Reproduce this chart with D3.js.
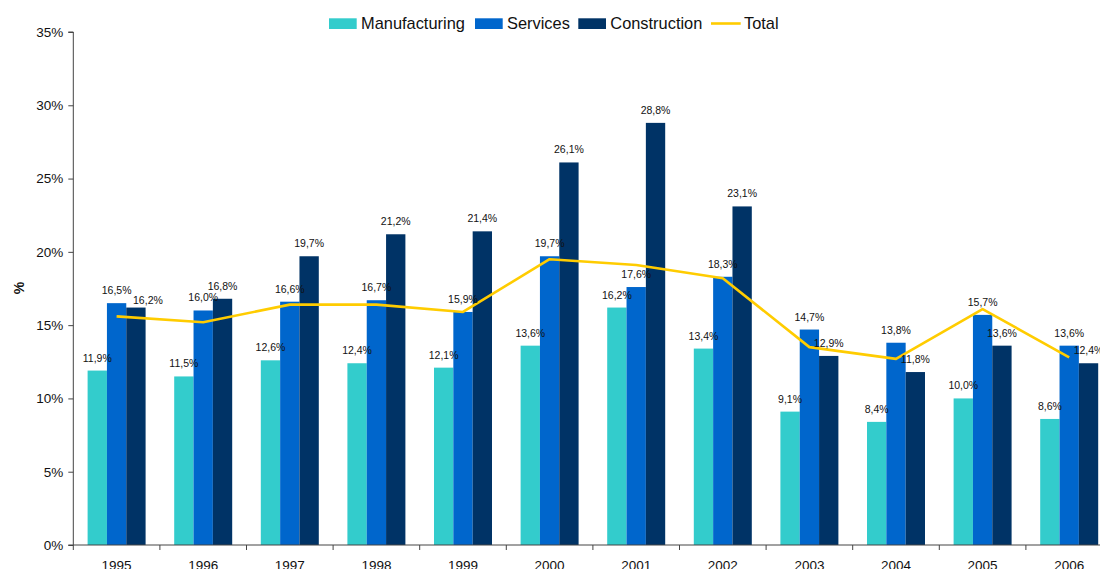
<!DOCTYPE html>
<html>
<head>
<meta charset="utf-8">
<script src="https://cdn.jsdelivr.net/npm/d3@7"></script>
<style>
  body { margin: 0; background: #fff; }
  svg { display: block; font-family: "Liberation Sans", Arial, sans-serif; }
</style>
</head>
<body>
<svg></svg>
<script>
const years = ['1995', '1996', '1997', '1998', '1999', '2000', '2001', '2002', '2003', '2004', '2005', '2006'];
const manufacturing = [11.9, 11.5, 12.6, 12.4, 12.1, 13.6, 16.2, 13.4, 9.1, 8.4, 10.0, 8.6];
const services = [16.5, 16.0, 16.6, 16.7, 15.9, 19.7, 17.6, 18.3, 14.7, 13.8, 15.7, 13.6];
const construction = [16.2, 16.8, 19.7, 21.2, 21.4, 26.1, 28.8, 23.1, 12.9, 11.8, 13.6, 12.4];
const total = [15.6, 15.2, 16.4, 16.4, 15.9, 19.5, 19.1, 18.2, 13.5, 12.7, 16.1, 12.8];
const yTicks = [0, 5, 10, 15, 20, 25, 30, 35];

const seriesNames = ['Manufacturing', 'Services', 'Construction'];
const seriesValues = [manufacturing, services, construction];
const colors = ['#33CCCC', '#0066CC', '#003366'];
const lineColor = '#FFCC00';

const chartWidth = 1100;
const chartHeight = 569;
const plotLeft = 73.3;
const step = 86.6;
const plotTop = 32;
const plotBottom = 545;
const plotRight = plotLeft + step * years.length;

const svg = d3.select('svg').attr('width', chartWidth).attr('height', chartHeight);

const x0 = d3.scaleBand()
  .domain(years)
  .range([plotLeft, plotRight])
  .padding(0);

const x1 = d3.scaleBand()
  .domain(seriesNames)
  .range([0, x0.bandwidth()])
  .paddingInner(0)
  .paddingOuter(0.74);

const y = d3.scaleLinear().domain([0, 35]).range([plotBottom, plotTop]);

const fmt = v => v.toFixed(1).replace('.', ',') + '%';

// bars
seriesNames.forEach((name, si) => {
  svg.append('g')
    .selectAll('rect')
    .data(seriesValues[si])
    .join('rect')
    .attr('x', (d, i) => x0(years[i]) + x1(name))
    .attr('y', d => y(d))
    .attr('width', x1.bandwidth())
    .attr('height', d => y(0) - y(d))
    .attr('fill', colors[si]);
});

// total line
const line = d3.line()
  .x((d, i) => x0(years[i]) + x0.bandwidth() / 2)
  .y(d => y(d));

svg.append('path')
  .datum(total)
  .attr('d', line)
  .attr('fill', 'none')
  .attr('stroke', lineColor)
  .attr('stroke-width', 2.6)
  .attr('stroke-linejoin', 'round');

// data labels (one label nudged like the original)
const nudge = { 'Construction-1995': [12, 5] };
const off = (name, i) => nudge[name + '-' + years[i]] || [0, 0];
seriesNames.forEach((name, si) => {
  svg.append('g')
    .selectAll('text')
    .data(seriesValues[si])
    .join('text')
    .attr('x', (d, i) => x0(years[i]) + x1(name) + x1.bandwidth() / 2 + off(name, i)[0])
    .attr('y', (d, i) => y(d) - 9 + off(name, i)[1])
    .attr('text-anchor', 'middle')
    .attr('font-size', 10.5)
    .attr('fill', '#111')
    .text(d => fmt(d));
});

// y axis
const yAxis = d3.axisLeft(y)
  .tickValues(yTicks)
  .tickSize(5)
  .tickPadding(5)
  .tickFormat(d => d + '%');

const gy = svg.append('g')
  .attr('transform', `translate(${plotLeft},0)`)
  .call(yAxis);
gy.select('.domain').attr('stroke', '#444').attr('d', `M-5,${plotTop}H0V${plotBottom}H-5`);
gy.selectAll('line').attr('stroke', '#444');
gy.selectAll('text').attr('font-size', 13.5).attr('fill', '#111').attr('font-family', '"Liberation Sans", Arial, sans-serif');

// x axis
const xAxis = d3.axisBottom(x0).tickSize(0).tickPadding(15);
const gx = svg.append('g')
  .attr('transform', `translate(0,${plotBottom})`)
  .call(xAxis);
gx.select('.domain').attr('stroke', '#444').attr('d', `M${plotLeft},0H${plotRight}`);
gx.selectAll('text').attr('font-size', 13.5).attr('fill', '#111').attr('font-family', '"Liberation Sans", Arial, sans-serif');

gx.append('g')
  .selectAll('line')
  .data(years.map(d => x0(d)).concat([plotRight]))
  .join('line')
  .attr('x1', d => d)
  .attr('x2', d => d)
  .attr('y1', 0)
  .attr('y2', 5)
  .attr('stroke', '#444');

// y label
svg.append('text')
  .attr('transform', 'translate(24,288) rotate(-90)')
  .attr('text-anchor', 'middle')
  .attr('font-size', 14)
  .attr('font-weight', 'bold')
  .attr('fill', '#111')
  .text('%');

// legend
const legendItems = [
  { name: 'Manufacturing', x: 329, type: 'rect', color: colors[0] },
  { name: 'Services', x: 475, type: 'rect', color: colors[1] },
  { name: 'Construction', x: 578.3, type: 'rect', color: colors[2] },
  { name: 'Total', x: 711, type: 'line', color: lineColor }
];
const lg = svg.append('g');
legendItems.forEach(item => {
  if (item.type === 'rect') {
    lg.append('rect')
      .attr('x', item.x).attr('y', 18.3)
      .attr('width', 27.7).attr('height', 10.7)
      .attr('fill', item.color);
  } else {
    lg.append('line')
      .attr('x1', item.x).attr('x2', item.x + 29.7)
      .attr('y1', 23.5).attr('y2', 23.5)
      .attr('stroke', item.color).attr('stroke-width', 2.6);
  }
  lg.append('text')
    .attr('x', item.x + (item.type === 'rect' ? 32 : 33))
    .attr('y', 29.3)
    .attr('font-size', 16.4)
    .attr('fill', '#111')
    .text(item.name);
});
</script>
</body>
</html>
